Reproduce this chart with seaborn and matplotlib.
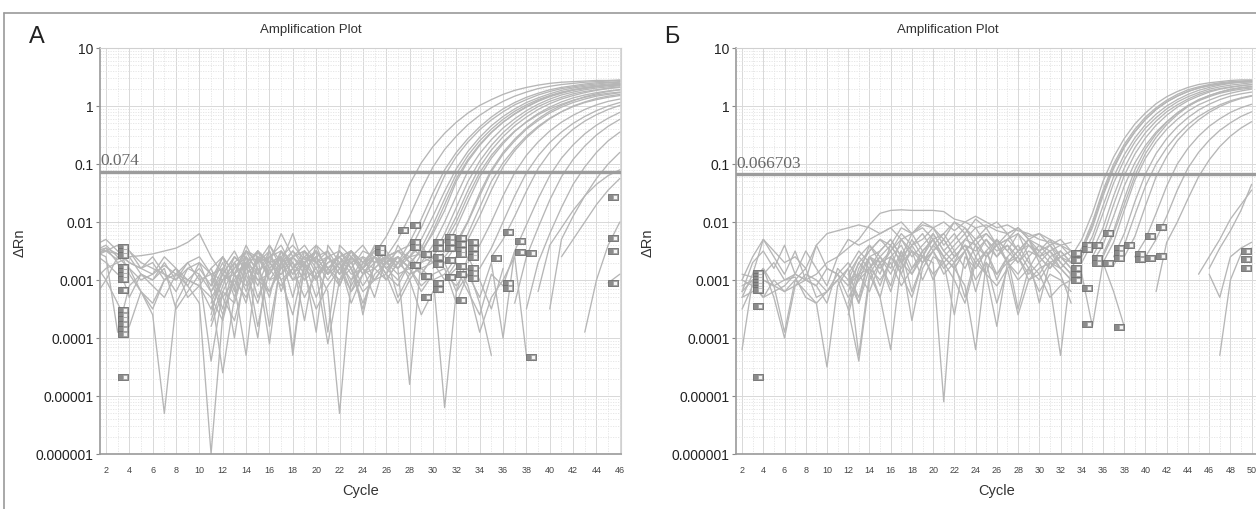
import numpy as np
import pandas as pd
import seaborn as sns
import matplotlib.pyplot as plt
from matplotlib.lines import Line2D
from matplotlib.transforms import offset_copy
from matplotlib.ticker import FixedLocator, MultipleLocator, LogLocator, NullFormatter

# ---------------- data: log10(dRn) ----------------
y_ticks = [1e-6, 1e-5, 1e-4, 1e-3, 1e-2, 1e-1, 1, 10]
y_tick_labels = ['0.000001', '0.00001', '0.0001', '0.001', '0.01', '0.1', '1', '10']
a_xticks = list(range(2, 47, 2))
b_xticks = list(range(2, 51, 2))

a_threshold = 0.074
a_threshold_text = '0.074'
b_threshold = 0.066703
b_threshold_text = '0.066703'

# panel A: baseline traces that start at cycle 1
a_noise_start = 1
a_noise = [
    [-2.5, -2.45, -2.55, -2.7, -2.8, -2.9, -2.75, -2.9, -3.0, -2.8, -3.1, -2.6, -2.9, -2.5, -2.7, -2.4, -2.8, -2.6, -2.5, -2.9, -2.7, -2.6, -2.8, -2.5, -2.6, -2.7, -2.5, -2.6, -2.55, -2.5],
    [-2.6, -2.5, -2.4, -2.9, -3.2, -3.4, -3.0, -2.8, -3.3, -3.1, -3.5, -3.0, -2.7, -3.2, -2.6, -2.9, -2.5, -3.0, -2.7, -3.3, -2.8, -2.6, -3.1, -2.7, -2.5, -2.8, -2.6, -3.0, -2.7, -2.6, -2.7, -3.2, -2.6, -3.0, -3.5, -2.8],
    [-2.55, -2.5, -2.55, -2.6, -2.58, -2.55, -2.5, -2.45, -2.35, -2.2, -2.6, -2.9, -2.6, -2.8, -2.5, -2.7, -2.6, -2.4, -2.65, -2.5, -2.8, -2.6, -2.5, -2.7, -2.45, -2.6, -2.5, -2.4, -2.6, -2.5],
    [-3.3, -3.0, -2.6, -2.8, -3.2, -3.5, -3.0, -2.9, -3.1, -3.4, -6.0, -3.6, -3.0, -3.3, -2.8, -3.2, -2.7, -3.0, -2.9, -3.5, -3.1, -2.8, -3.2, -2.9, -2.8, -3.0, -2.7, -2.9, -2.8, -2.7, -3.0, -2.8, -3.2, -3.6, -2.9, -3.1],
    [-2.7, -3.0, -3.4, -3.8, -3.2, -3.6, -5.3, -3.4, -3.0, -3.1, -3.3, -3.7, -2.9, -3.1, -2.6, -3.0, -2.9, -2.7, -3.0, -2.8, -3.2, -5.3, -3.0, -2.8, -3.0, -2.7, -2.9, -2.8, -3.1, -2.9, -5.2, -3.2, -2.9],
    [-2.4, -2.3, -2.5, -2.7, -2.8, -2.6, -2.9, -3.2, -2.8, -2.7, -2.9, -3.3, -3.7, -2.9, -3.4, -2.7, -2.6, -2.9, -2.6, -2.7, -3.0, -2.7, -3.4, -2.9, -2.6, -2.8, -3.0, -2.7, -2.5, -2.6],
    [-2.5, -2.6, -3.9, -3.1, -2.9, -3.0, -2.7, -3.0, -2.8, -2.9, -3.2, -4.6, -3.3, -2.8, -3.0, -3.2, -2.8, -2.5, -2.7, -3.0, -2.6, -2.9, -2.7, -3.1, -2.8, -2.6, -3.3, -2.9, -2.8, -3.0, -2.9, -3.1, -2.8, -3.4, -4.3],
    [-2.6, -2.45, -2.7, -2.6, -2.9, -3.1, -3.3, -2.9, -2.7, -3.0, -2.9, -2.8, -4.0, -2.7, -2.9, -2.5, -3.0, -3.6, -2.7, -2.5, -2.8, -3.1, -2.6, -3.6, -2.7, -2.6, -2.8, -4.8, -2.6, -2.7],
    [-2.55, -2.7, -2.9, -2.8, -3.0, -2.9, -2.6, -2.8, -3.1, -2.7, -3.2, -2.9, -3.1, -2.6, -3.3, -2.8, -2.6, -4.2, -2.7, -2.6, -2.9, -2.5, -2.8, -3.4, -2.9, -2.7, -2.6, -2.8, -3.2, -2.9, -2.8, -3.4, -2.9, -3.3, -2.7, -4.0, -2.5],
    [-2.5, -2.4, -2.6, -2.5, -2.7, -2.8, -2.9, -3.0, -2.7, -2.6, -2.9, -3.0, -2.9, -2.4, -2.8, -3.3, -2.5, -2.7, -3.0, -2.4, -2.6, -2.9, -2.5, -2.8, -2.6, -2.9, -2.4, -2.7, -2.9, -2.6],
    [-3.0, -2.8, -2.7, -3.3, -2.9, -3.0, -2.8, -3.5, -3.2, -2.9, -4.4, -3.2, -3.4, -2.7, -3.8, -2.8, -3.1, -2.8, -3.3, -2.9, -4.1, -3.0, -2.8, -3.2, -3.0, -2.9, -3.4, -3.0, -3.6, -3.2, -3.0, -2.7, -3.1, -3.9, -3.3, -3.0, -2.6, -4.3],
    [-2.45, -2.5, -2.65, -2.5, -2.8, -2.7, -3.0, -2.8, -3.0, -3.1, -2.8, -2.6, -3.2, -2.5, -2.7, -2.6, -2.4, -2.8, -2.5, -2.7, -2.5, -2.8, -2.6, -2.4, -2.7, -2.5, -2.8, -2.6, -2.4, -2.7],
]

# panel A: baseline traces that start at cycle 11
a_late_start = 11
a_late = [
    [-3.4, -2.9, -2.6, -2.8, -2.5, -2.7, -2.2, -2.6, -2.9, -2.5, -3.9, -2.4, -2.6, -2.8, -2.5, -2.6, -2.7, -2.5],
    [-3.8, -3.2, -2.8, -2.5, -2.9, -2.6, -2.5, -2.8, -2.6, -2.4, -2.9, -2.7, -3.0, -2.6, -2.7, -2.5],
    [-2.9, -3.5, -2.7, -3.0, -4.0, -2.4, -2.7, -2.5, -2.8, -2.6, -2.5, -3.1, -2.6, -2.8, -2.4, -2.7, -2.6, -2.8],
    [-3.1, -2.7, -3.3, -2.6, -2.8, -4.1, -2.6, -2.9, -2.7, -2.5, -2.8, -2.6, -2.5, -2.9, -2.6, -3.0, -2.7],
    [-3.6, -2.8, -2.5, -2.9, -2.7, -2.5, -3.2, -2.6, -2.4, -2.7, -2.6, -2.9, -2.5, -2.7, -2.8, -2.6, -2.5, -2.7, -2.9],
    [-3.0, -2.6, -2.9, -3.4, -2.5, -2.8, -2.6, -3.3, -2.5, -2.8, -2.6, -2.5, -2.8, -3.5, -2.7, -2.6],
    [-3.3, -3.0, -2.7, -2.5, -2.6, -3.8, -2.7, -2.2, -2.8, -3.0, -2.6, -2.8, -2.5, -2.7, -2.6, -2.9, -2.6, -2.8],
    [-2.8, -3.3, -3.0, -2.7, -3.1, -2.6, -2.8, -2.7, -3.7, -2.6, -2.9, -2.7, -3.2, -2.7, -2.5, -2.8, -2.6],
    [-3.7, -3.1, -2.6, -2.8, -2.5, -3.0, -2.7, -2.6, -2.5, -2.7, -2.9, -2.5, -2.7, -2.6, -3.0, -2.7, -2.8, -2.5],
    [-3.2, -2.8, -3.1, -4.3, -2.6, -2.7, -3.0, -2.8, -2.6, -3.0, -2.7, -2.6, -2.9, -2.8, -2.6, -2.9, -3.1, -2.7],
    [-3.5, -3.0, -2.8, -2.6, -3.0, -2.9, -2.6, -4.3, -2.7, -2.5, -2.8, -3.0, -2.6, -2.9, -2.7, -2.6, -2.5],
    [-3.0, -3.6, -2.9, -2.7, -2.5, -2.7, -2.9, -2.6, -2.8, -3.9, -2.4, -2.7, -2.5, -2.8, -3.3, -2.6, -2.7, -2.6, -2.8],
]

# panel A: amplification tails (first cycle, values)
a_amp_start = [25, 26, 27, 27, 28, 28, 28, 29, 29, 29, 30, 30, 30, 31, 31, 31, 32, 33, 34, 35, 36, 37, 38, 39, 40, 41, 43, 45]
a_amp = [
    [-2.55, -2.25, -1.85, -1.35, -0.98, -0.7, -0.47, -0.28, -0.12, 0.01, 0.11, 0.2, 0.27, 0.32, 0.36, 0.39, 0.41, 0.42, 0.43, 0.44, 0.44, 0.45],
    [-2.6, -2.3, -1.9, -1.45, -1.05, -0.75, -0.52, -0.32, -0.16, -0.03, 0.08, 0.17, 0.24, 0.3, 0.34, 0.37, 0.39, 0.41, 0.42, 0.43, 0.44],
    [-2.7, -2.35, -1.95, -1.5, -1.1, -0.8, -0.56, -0.36, -0.19, -0.05, 0.06, 0.15, 0.22, 0.28, 0.32, 0.35, 0.38, 0.4, 0.41, 0.42],
    [-2.8, -2.5, -2.1, -1.65, -1.2, -0.87, -0.62, -0.41, -0.24, -0.1, 0.02, 0.11, 0.19, 0.25, 0.3, 0.33, 0.36, 0.38, 0.4, 0.41],
    [-2.6, -2.3, -1.9, -1.47, -1.08, -0.78, -0.54, -0.34, -0.18, -0.05, 0.06, 0.14, 0.21, 0.27, 0.31, 0.34, 0.36, 0.38, 0.39],
    [-2.75, -2.45, -2.05, -1.6, -1.17, -0.85, -0.6, -0.4, -0.23, -0.09, 0.02, 0.11, 0.18, 0.24, 0.28, 0.31, 0.34, 0.36, 0.37],
    [-2.9, -2.55, -2.15, -1.7, -1.25, -0.92, -0.66, -0.45, -0.28, -0.14, -0.02, 0.08, 0.16, 0.22, 0.27, 0.3, 0.33, 0.35, 0.36],
    [-2.5, -2.2, -1.8, -1.3, -0.95, -0.68, -0.46, -0.28, -0.13, -0.01, 0.09, 0.17, 0.23, 0.28, 0.32, 0.34, 0.36, 0.38],
    [-2.7, -2.4, -2.0, -1.55, -1.12, -0.82, -0.58, -0.38, -0.22, -0.08, 0.03, 0.12, 0.19, 0.24, 0.28, 0.31, 0.33, 0.35],
    [-2.9, -2.6, -2.2, -1.75, -1.3, -0.95, -0.68, -0.46, -0.28, -0.13, -0.01, 0.08, 0.15, 0.21, 0.25, 0.28, 0.31, 0.33],
    [-2.6, -2.3, -1.9, -1.45, -1.05, -0.76, -0.53, -0.34, -0.19, -0.06, 0.04, 0.12, 0.18, 0.23, 0.27, 0.3, 0.32],
    [-2.8, -2.5, -2.1, -1.65, -1.22, -0.9, -0.65, -0.44, -0.27, -0.13, -0.02, 0.07, 0.14, 0.19, 0.23, 0.26, 0.28],
    [-2.5, -2.35, -2.0, -1.55, -1.15, -0.85, -0.62, -0.43, -0.28, -0.15, -0.05, 0.03, 0.1, 0.15, 0.19, 0.22, 0.24],
    [-2.7, -2.4, -2.0, -1.55, -1.13, -0.83, -0.6, -0.4, -0.25, -0.12, -0.02, 0.06, 0.12, 0.17, 0.2, 0.23],
    [-2.9, -2.6, -2.2, -1.75, -1.3, -0.98, -0.73, -0.52, -0.35, -0.21, -0.1, -0.01, 0.06, 0.11, 0.15, 0.18],
    [-2.6, -2.35, -1.98, -1.5, -1.1, -0.8, -0.57, -0.38, -0.22, -0.09, 0.01, 0.09, 0.16, 0.21, 0.25, 0.28],
    [-2.6, -2.3, -1.9, -1.45, -1.05, -0.77, -0.55, -0.37, -0.22, -0.1, 0.0, 0.07, 0.13, 0.17, 0.2],
    [-2.7, -2.4, -2.0, -1.55, -1.15, -0.85, -0.62, -0.43, -0.28, -0.16, -0.06, 0.02, 0.08, 0.12],
    [-2.8, -2.45, -2.0, -1.55, -1.15, -0.86, -0.63, -0.45, -0.3, -0.18, -0.08, 0.0, 0.06],
    [-2.6, -2.3, -1.9, -1.47, -1.08, -0.8, -0.58, -0.4, -0.26, -0.15, -0.06, 0.01],
    [-3.1, -2.5, -2.05, -1.6, -1.2, -0.9, -0.67, -0.48, -0.33, -0.21, -0.11],
    [-3.4, -2.6, -2.1, -1.62, -1.22, -0.92, -0.69, -0.5, -0.35, -0.23],
    [-3.5, -2.7, -2.2, -1.75, -1.35, -1.05, -0.8, -0.6, -0.45],
    [-3.2, -2.4, -2.1, -1.8, -1.55, -1.35, -1.2, -1.1],
    [-3.5, -2.3, -1.9, -1.55, -1.25, -1.0, -0.8],
    [-2.6, -2.3, -2.0, -1.7, -1.45, -1.25],
    [-3.9, -3.0, -2.4, -2.0],
    [-3.05, -2.9],
]

# panel A: well markers (cycle, log10 dRn)
a_mark_x = [3] * 15 + [25, 25, 27, 28, 28, 28, 28, 29, 29, 29] + [30] * 6 + [31] * 5 + [32] * 7 + [33] * 7 + [35, 36, 36, 36, 37, 37, 38, 38, 45, 45, 45, 45]
a_mark_y = [-2.43, -2.5, -2.57, -2.78, -2.85, -2.92, -2.99, -3.17, -3.52, -3.6, -3.68, -3.76, -3.85, -3.93, -4.67,
            -2.45, -2.52, -2.14, -2.05, -2.34, -2.43, -2.74, -2.55, -2.93, -3.29,
            -2.35, -2.45, -2.6, -2.72, -3.05, -3.15,
            -2.25, -2.35, -2.45, -2.65, -2.95,
            -2.28, -2.38, -2.48, -2.55, -2.75, -2.9, -3.35,
            -2.35, -2.45, -2.55, -2.6, -2.8, -2.88, -2.96,
            -2.62, -2.17, -3.05, -3.14, -2.33, -2.52, -2.53, -4.33, -1.57, -2.28, -2.5, -3.05]

# panel B: baseline traces that start at cycle 2
b_noise_start = 2
b_noise = [
    [-3.2, -2.7, -2.5, -2.8, -2.4, -2.9, -2.5, -2.8, -3.1, -2.6, -2.3, -2.4, -2.3, -2.2, -2.1, -2.0, -2.2, -2.1, -2.3, -2.2, -2.0, -2.1, -2.3, -2.2, -2.4, -2.3, -2.1, -2.3, -2.5, -2.4, -2.6, -2.5],
    [-3.3, -2.9, -2.3, -2.6, -2.9, -2.5, -3.0, -2.4, -2.8, -2.9, -2.7, -3.0, -2.6, -2.5, -2.3, -2.6, -2.4, -2.2, -2.5, -2.3, -2.6, -2.4, -2.5, -2.3, -2.6, -2.4, -2.7, -2.5, -2.6, -2.8, -2.5, -2.7],
    [-4.2, -3.0, -2.8, -3.1, -3.9, -3.0, -3.2, -3.4, -4.5, -3.1, -2.8, -3.4, -2.6, -2.7, -3.1, -2.5, -2.9, -2.6, -2.7, -5.1, -2.7, -2.5, -3.0, -2.7, -3.4, -2.8, -2.6, -2.9, -2.7, -3.1, -4.3, -2.8],
    [-2.9, -2.95, -3.0, -3.1, -3.2, -3.0, -2.8, -3.3, -3.2, -3.0, -3.5, -4.4, -3.0, -2.7, -3.2, -2.6, -3.7, -2.8, -2.5, -2.9, -2.7, -3.3, -2.6, -2.9, -3.8, -2.7, -3.0, -2.8, -3.2, -2.9, -3.0, -3.2],
    [-3.1, -3.0, -2.9, -2.7, -3.0, -2.95, -3.3, -3.4, -3.2, -2.9, -3.3, -3.0, -2.8, -3.3, -4.2, -2.7, -2.9, -2.5, -3.0, -2.6, -2.8, -3.1, -4.2, -2.7, -2.9, -2.6, -3.5, -2.8, -3.0, -2.7, -2.8, -3.0],
    [-3.3, -3.2, -3.0, -3.1, -3.0, -2.9, -3.0, -2.9, -2.7, -2.6, -2.45, -2.3, -2.05, -1.85, -1.8, -1.79, -1.8, -1.8, -1.8, -1.82, -1.95, -2.0, -1.9, -2.0, -2.1, -2.05, -2.15, -2.2, -2.3, -2.35, -2.4, -2.5],
    [-3.0, -2.6, -2.3, -2.5, -2.7, -2.6, -2.8, -2.4, -2.2, -2.15, -2.1, -2.05, -2.1, -2.2, -2.1, -2.3, -2.2, -2.05, -2.1, -2.0, -2.15, -2.0, -2.1, -2.05, -2.15, -2.2, -2.1, -2.25, -2.2, -2.3, -2.4, -2.35],
    [-3.5, -3.1, -2.8, -3.3, -4.0, -3.1, -2.9, -3.0, -3.2, -3.0, -2.8, -4.3, -2.9, -3.3, -2.6, -2.8, -2.5, -3.0, -2.6, -2.7, -3.6, -2.6, -2.8, -2.5, -2.9, -2.7, -2.6, -3.0, -2.8, -2.7, -2.9, -3.4],
    [-3.0, -3.1, -3.3, -3.2, -3.1, -2.9, -3.0, -3.1, -3.4, -2.8, -3.0, -2.9, -3.2, -2.7, -2.6, -2.9, -3.3, -2.7, -2.4, -2.6, -2.8, -2.5, -3.2, -2.6, -2.4, -2.7, -2.9, -2.6, -3.4, -2.7, -2.6, -2.8],
    [-3.2, -3.0, -3.3, -3.0, -3.2, -3.1, -3.0, -3.1, -2.8, -2.9, -3.1, -2.9, -2.8, -3.0, -2.7, -3.1, -2.8, -2.6, -2.9, -2.7, -3.0, -3.4, -2.7, -2.9, -3.1, -2.8, -3.6, -3.0, -2.9, -3.3, -3.1, -3.0, -2.9, -3.8, -2.7, -3.2, -3.8],
]

# panel B: baseline traces that start at cycle 12
b_late_start = 12
b_late = [
    [-3.4, -2.8, -2.5, -2.3, -2.5, -2.2, -2.4, -2.3, -2.1, -2.4, -2.2, -2.5, -2.3, -2.1, -2.4, -2.2, -2.5, -2.3, -2.4, -2.6, -2.5, -2.7],
    [-3.0, -2.6, -2.8, -2.5, -2.3, -2.6, -2.2, -2.5, -2.3, -2.6, -2.4, -2.2, -2.6, -2.3, -2.5, -2.4, -2.6, -2.3, -2.7, -2.5, -2.4, -2.6],
    [-2.9, -3.3, -2.6, -2.9, -2.4, -2.7, -2.3, -2.6, -2.2, -2.5, -2.7, -2.3, -2.4, -2.9, -2.3, -2.5, -2.2, -2.6, -2.4, -2.5, -2.8, -2.6],
    [-3.6, -2.9, -2.4, -2.6, -2.8, -2.3, -2.5, -2.7, -2.4, -2.2, -2.5, -2.3, -2.1, -2.4, -2.6, -2.3, -2.5, -2.3, -2.6, -2.4, -2.7, -2.9],
    [-2.8, -2.5, -2.7, -3.1, -2.6, -2.4, -2.8, -2.5, -2.3, -2.7, -2.5, -2.8, -2.4, -2.6, -2.3, -2.7, -2.5, -2.8, -2.5, -2.7, -2.6, -2.8],
    [-3.2, -2.7, -2.5, -2.3, -2.4, -2.1, -2.2, -2.0, -2.1, -2.3, -2.0, -2.2, -1.95, -2.1, -2.0, -2.2, -2.1, -2.3, -2.2, -2.4, -2.3, -2.5],
    [-3.0, -3.4, -2.8, -2.6, -2.9, -2.5, -3.2, -2.7, -2.5, -2.8, -2.6, -2.4, -2.7, -2.5, -3.0, -2.6, -2.4, -2.7, -2.9, -2.6, -2.8, -3.0],
    [-3.1, -2.7, -2.9, -2.6, -2.4, -2.7, -2.5, -2.6, -2.3, -2.6, -2.8, -2.5, -2.3, -2.6, -2.4, -2.7, -2.5, -2.4, -2.6, -2.8, -2.6, -2.5],
    [-3.5, -2.9, -2.6, -2.8, -2.5, -2.9, -2.4, -2.7, -2.5, -2.3, -2.6, -2.4, -2.8, -2.5, -2.3, -2.5, -2.7, -2.4, -2.6, -2.5, -2.7, -2.9],
    [-2.9, -2.6, -2.4, -2.7, -2.5, -2.3, -2.6, -2.4, -2.2, -2.5, -2.3, -2.1, -2.4, -2.2, -2.4, -2.3, -2.2, -2.4, -2.5, -2.3, -2.6, -2.7],
]

# panel B: amplification tails (first cycle, values)
b_amp_start = [33, 33, 33, 34, 34, 34, 35, 35, 35, 36, 36, 36, 37, 37, 38, 39, 40, 41, 45, 46, 46, 47]
b_amp = [
    [-2.6, -2.3, -1.85, -1.3, -0.88, -0.56, -0.31, -0.12, 0.04, 0.16, 0.25, 0.32, 0.37, 0.4, 0.42, 0.44, 0.45, 0.45],
    [-2.7, -2.45, -2.0, -1.45, -1.0, -0.66, -0.4, -0.19, -0.03, 0.1, 0.2, 0.28, 0.33, 0.37, 0.4, 0.42, 0.43, 0.44],
    [-2.8, -2.5, -2.05, -1.5, -1.05, -0.7, -0.44, -0.23, -0.06, 0.07, 0.17, 0.25, 0.31, 0.35, 0.38, 0.4, 0.41, 0.42],
    [-2.5, -2.1, -1.55, -1.08, -0.72, -0.45, -0.23, -0.06, 0.07, 0.17, 0.25, 0.31, 0.35, 0.38, 0.4, 0.42, 0.43],
    [-2.6, -2.25, -1.72, -1.22, -0.84, -0.55, -0.32, -0.14, 0.0, 0.11, 0.2, 0.27, 0.32, 0.36, 0.39, 0.41, 0.42],
    [-2.7, -2.35, -1.85, -1.33, -0.93, -0.62, -0.38, -0.2, -0.05, 0.07, 0.16, 0.23, 0.29, 0.33, 0.36, 0.38, 0.4],
    [-2.5, -2.1, -1.55, -1.07, -0.72, -0.46, -0.26, -0.1, 0.02, 0.12, 0.2, 0.26, 0.3, 0.33, 0.35, 0.37],
    [-2.6, -2.25, -1.7, -1.2, -0.83, -0.55, -0.33, -0.16, -0.02, 0.09, 0.17, 0.24, 0.29, 0.32, 0.35, 0.37],
    [-2.7, -2.4, -1.9, -1.38, -0.98, -0.68, -0.45, -0.27, -0.12, 0.0, 0.09, 0.16, 0.22, 0.26, 0.29, 0.31],
    [-2.55, -2.15, -1.6, -1.1, -0.74, -0.48, -0.28, -0.12, 0.01, 0.11, 0.18, 0.24, 0.28, 0.31, 0.33],
    [-2.7, -2.35, -1.8, -1.28, -0.9, -0.62, -0.4, -0.23, -0.09, 0.02, 0.1, 0.17, 0.22, 0.26, 0.29],
    [-2.6, -2.2, -1.7, -1.2, -0.82, -0.54, -0.32, -0.15, -0.01, 0.1, 0.18, 0.24, 0.29, 0.32, 0.34],
    [-2.6, -2.2, -1.65, -1.17, -0.82, -0.56, -0.36, -0.2, -0.07, 0.03, 0.11, 0.17, 0.21, 0.24],
    [-2.75, -2.4, -1.88, -1.38, -1.0, -0.72, -0.5, -0.32, -0.18, -0.07, 0.02, 0.09, 0.14, 0.18],
    [-2.6, -2.25, -1.72, -1.22, -0.87, -0.6, -0.4, -0.24, -0.11, -0.01, 0.07, 0.13, 0.17],
    [-2.6, -2.3, -1.85, -1.38, -1.0, -0.73, -0.52, -0.35, -0.22, -0.11, -0.03, 0.03],
    [-2.6, -2.3, -1.9, -1.45, -1.07, -0.8, -0.59, -0.42, -0.29, -0.18, -0.1],
    [-3.2, -2.35, -2.0, -1.6, -1.22, -0.93, -0.7, -0.52, -0.38, -0.27],
    [-2.9, -2.6, -2.3, -1.95, -1.7, -1.45],
    [-2.8, -2.45, -2.15, -1.8, -1.35],
    [-2.9, -3.3, -2.6, -2.45, -2.35],
    [-4.3, -3.0, -2.55, -2.45],
]

# panel B: well markers (cycle, log10 dRn)
b_mark_x = [3] * 9 + [33] * 5 + [34] * 4 + [35] * 3 + [36, 36] + [37] * 4 + [38, 39, 39, 40, 40, 41, 41, 49, 49, 49]
b_mark_y = [-2.88, -2.93, -2.98, -3.03, -3.08, -3.13, -3.17, -3.45, -4.67,
            -2.53, -2.66, -2.8, -2.9, -3.0,
            -2.4, -2.47, -3.14, -3.76,
            -2.4, -2.62, -2.71,
            -2.71, -2.19,
            -2.45, -2.53, -2.62, -3.81,
            -2.4, -2.55, -2.64, -2.24, -2.62, -2.09, -2.59, -2.5, -2.64, -2.79]


def build_frame(groups):
    rows = []
    for tag, starts, traces in groups:
        for i, (s, vals) in enumerate(zip(starts, traces)):
            for j, v in enumerate(vals):
                rows.append({'well': f'{tag}{i}', 'Cycle': s + j, 'dRn': 10 ** v})
    return pd.DataFrame(rows)


df_a = build_frame([('n', [a_noise_start] * len(a_noise), a_noise),
                    ('l', [a_late_start] * len(a_late), a_late),
                    ('a', a_amp_start, a_amp)])
df_b = build_frame([('n', [b_noise_start] * len(b_noise), b_noise),
                    ('l', [b_late_start] * len(b_late), b_late),
                    ('a', b_amp_start, b_amp)])

sns.set_style('white')
plt.rcParams['font.family'] = ['Liberation Sans', 'DejaVu Sans']

W, H = 1256, 509
fig = plt.figure(figsize=(W / 100, H / 100), dpi=100)
ax_a = fig.add_axes([100 / W, 1 - 454 / H, 521 / W, 406 / H])
ax_b = fig.add_axes([736 / W, 1 - 454 / H, 522 / W, 406 / H])


def draw_panel(ax, df, xlim, xticks, thr, thr_text, mx, my, letter, letter_x, ylab_x):
    sns.lineplot(data=df, x='Cycle', y='dRn', units='well', estimator=None, sort=False,
                 color='#b6b6b6', lw=0.95, ax=ax, legend=False)
    ax.set_yscale('log')
    ax.set_ylim(1e-6, 10)
    ax.set_xlim(*xlim)

    # threshold line and its value
    ax.axhline(thr, color='#9c9c9c', lw=2.4, zorder=3)
    ax.text(xlim[0] + 0.05, thr * 1.09, thr_text, family=['Liberation Serif', 'DejaVu Serif'],
            fontsize=12.5, color='#6a6a6a', ha='left', va='bottom', zorder=4)

    # well markers: grey box with small open square on the right
    rect = [(-1, -0.6), (1, -0.6), (1, 0.6), (-1, 0.6), (-1, -0.6)]
    my_lin = [10 ** v for v in my]
    tr_box = offset_copy(ax.transData, fig=fig, x=3.6, y=0, units='points')
    tr_sq = offset_copy(ax.transData, fig=fig, x=5.0, y=0, units='points')
    ax.scatter(mx, my_lin, marker=rect, s=52, facecolor='#8c8c8c', edgecolor='#6e6e6e',
               linewidth=0.6, transform=tr_box, zorder=5)
    ax.scatter(mx, my_lin, marker='s', s=9, facecolor='#f4f4f4', edgecolor='#9a9a9a',
               linewidth=0.4, transform=tr_sq, zorder=6)

    # ticks and grid
    ax.yaxis.set_major_locator(FixedLocator(y_ticks))
    ax.set_yticklabels(y_tick_labels)
    ax.yaxis.set_minor_locator(LogLocator(base=10, subs=np.arange(2, 10), numticks=20))
    ax.yaxis.set_minor_formatter(NullFormatter())
    ax.xaxis.set_major_locator(FixedLocator(xticks))
    ax.set_xticklabels([str(v) for v in xticks])
    ax.xaxis.set_minor_locator(MultipleLocator(1))
    ax.grid(which='major', color='#d8d8d8', lw=0.7)
    ax.grid(which='minor', color='#e3e3e3', lw=0.6, ls=(0, (1.5, 1.5)))
    ax.set_axisbelow(True)
    ax.tick_params(axis='y', which='major', left=True, length=3, width=0.8, color='#888888',
                   labelsize=10, labelcolor='#222222', pad=1.5)
    ax.tick_params(axis='x', which='major', bottom=False, labelsize=6.5, labelcolor='#444444', pad=5)
    ax.tick_params(which='minor', length=0)
    for side in ['left', 'bottom']:
        ax.spines[side].set_color('#9a9a9a')
        ax.spines[side].set_linewidth(1.2)
    for side in ['top', 'right']:
        ax.spines[side].set_color('#d0d0d0')
        ax.spines[side].set_linewidth(0.8)

    ax.set_xlabel('Cycle', fontsize=10.5, color='#333333')
    ax.xaxis.set_label_coords(0.5, -0.075)
    ax.set_ylabel('ΔRn', fontsize=10.5, color='#333333')
    ax.yaxis.set_label_coords(ylab_x, 0.52)
    ax.text(0.405, 1.03, 'Amplification Plot', transform=ax.transAxes, ha='center', va='bottom',
            fontsize=9.5, color='#333333')
    fig.text(letter_x, 1 - 37 / H, letter, fontsize=17, color='#222222', ha='left', va='center')


draw_panel(ax_a, df_a, (1.49, 46.1), a_xticks, a_threshold, a_threshold_text,
           a_mark_x, a_mark_y, 'А', 29 / W, -0.14)
draw_panel(ax_b, df_b, (1.43, 50.6), b_xticks, b_threshold, b_threshold_text,
           b_mark_x, b_mark_y, 'Б', 664 / W, -0.155)

# thin frame around the figure (top and left edges)
fig.add_artist(Line2D([4 / W, 1], [1 - 13 / H, 1 - 13 / H], transform=fig.transFigure,
                      color='#9a9a9a', lw=1.2))
fig.add_artist(Line2D([4 / W, 4 / W], [0, 1 - 13 / H], transform=fig.transFigure,
                      color='#9a9a9a', lw=1.2))

fig.savefig('out.png', dpi=100)
